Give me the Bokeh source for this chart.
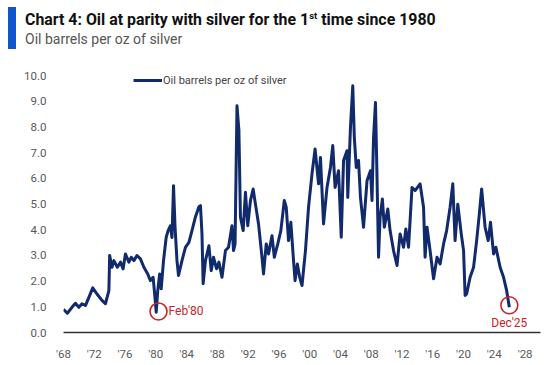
from bokeh.plotting import figure
from bokeh.models import (Range1d, FixedTicker, PrintfTickFormatter, Legend, LegendItem, Div)
from bokeh.layouts import column
from bokeh.embed import file_html
from bokeh.resources import INLINE
from bokeh.core.properties import value

# ---- data ----
dates = [1968.0, 1968.5, 1969.1, 1969.55, 1970.0, 1970.4, 1970.85, 1971.3, 1971.8, 1972.35,
         1973.0, 1973.45, 1973.9, 1974.0, 1974.3, 1974.55, 1975.0, 1975.4, 1975.75, 1976.05,
         1976.5, 1976.8, 1977.15, 1977.55, 1978.0, 1978.45, 1978.95, 1979.3, 1979.65, 1979.85,
         1980.05, 1980.25, 1980.5, 1980.7, 1981.0, 1981.35, 1981.6, 1981.9, 1982.1, 1982.3,
         1982.5, 1982.75, 1982.95, 1983.4, 1983.85, 1984.3, 1984.7, 1985.15, 1985.6, 1985.8,
         1986.0, 1986.15, 1986.45, 1986.9, 1987.2, 1987.5, 1987.9, 1988.2, 1988.6, 1989.05,
         1989.45, 1989.9, 1990.1, 1990.3, 1990.55, 1990.8, 1991.0, 1991.35, 1991.65, 1991.95,
         1992.3, 1992.65, 1992.95, 1993.35, 1993.8, 1994.0, 1994.35, 1994.65, 1995.1, 1995.4,
         1995.85, 1996.25, 1996.7, 1996.95, 1997.25, 1997.55, 1997.9, 1998.1, 1998.4, 1998.7,
         1999.0, 1999.45, 1999.85, 2000.3, 2000.7, 2001.15, 2001.4, 2001.8, 2002.25, 2002.7,
         2003.0, 2003.3, 2003.75, 2004.1, 2004.4, 2004.85, 2004.95, 2005.3, 2005.6, 2005.8,
         2006.05, 2006.35, 2006.6, 2007.0, 2007.45, 2007.9, 2008.1, 2008.3, 2008.55, 2008.7,
         2008.95, 2009.15, 2009.45, 2009.7, 2010.15, 2010.45, 2010.9, 2011.35, 2011.75, 2012.2,
         2012.5, 2012.85, 2013.3, 2013.7, 2014.35, 2014.8, 2015.0, 2015.25, 2015.65, 2016.1,
         2016.55, 2016.95, 2017.4, 2017.8, 2018.25, 2018.6, 2018.9, 2019.25, 2019.7, 2020.0,
         2020.2, 2020.4, 2020.85, 2021.3, 2021.7, 2022.05, 2022.35, 2022.8, 2023.2, 2023.5,
         2023.9, 2024.2, 2024.75, 2025.2, 2025.6, 2025.95]
ratio = [0.90, 0.75, 0.98, 1.14, 0.98, 1.12, 1.05, 1.37, 1.74, 1.50,
         1.25, 1.12, 1.63, 3.00, 2.54, 2.80, 2.54, 2.74, 2.48, 3.06,
         2.74, 2.93, 2.80, 3.00, 2.87, 2.54, 2.28, 2.02, 2.15, 1.50,
         0.79, 1.63, 2.28, 1.70, 2.80, 3.71, 3.97, 4.16, 3.70, 5.72,
         4.10, 2.80, 2.22, 2.80, 3.32, 3.51, 3.97, 4.50, 4.90, 4.94,
         3.84, 1.90, 2.80, 3.38, 2.41, 2.93, 2.48, 2.74, 2.15, 3.19,
         3.32, 4.16, 3.19, 3.45, 8.83, 7.86, 4.49, 3.97, 5.46, 4.16,
         5.14, 5.59, 5.00, 4.23, 2.93, 2.28, 3.45, 3.06, 3.77, 2.93,
         3.45, 3.97, 5.14, 4.88, 3.58, 4.29, 2.80, 2.02, 2.67, 2.15,
         1.83, 3.19, 4.88, 6.18, 7.15, 5.79, 6.82, 4.23, 5.65, 6.43,
         7.28, 5.65, 6.30, 3.71, 6.70, 7.08, 5.26, 7.99, 9.61, 7.60,
         6.43, 6.70, 5.26, 4.10, 5.91, 6.30, 5.14, 7.60, 8.96, 6.82,
         2.93, 4.49, 5.20, 4.10, 4.81, 3.97, 3.19, 2.61, 3.84, 3.32,
         4.03, 3.32, 5.65, 5.53, 5.79, 4.88, 2.93, 4.10, 3.19, 2.09,
         2.93, 2.67, 3.45, 3.97, 4.88, 5.79, 3.58, 5.00, 3.84, 3.19,
         1.44, 1.50, 2.15, 2.54, 3.58, 4.62, 5.59, 4.10, 3.58, 4.29,
         3.06, 3.32, 2.54, 2.15, 1.63, 0.98]

x_ticks = [1968, 1972, 1976, 1980, 1984, 1988, 1992, 1996, 2000, 2004, 2008, 2012,
           2016, 2020, 2024, 2028]
x_tick_labels = ["'68", "'72", "'76", "'80", "'84", "'88", "'92", "'96", "'00", "'04",
                 "'08", "'12", "'16", "'20", "'24", "'28"]
y_ticks = [0, 1, 2, 3, 4, 5, 6, 7, 8, 9, 10]

note_dates = [1980.35, 2025.95]
note_values = [0.82, 1.06]
note_labels = ["Feb'80", "Dec'25"]

series_label = "Oil barrels per oz of silver"
title_main = "Chart 4: Oil at parity with silver for the 1"
title_sup = "st"
title_tail = " time since 1980"
subtitle = "Oil barrels per oz of silver"

# ---- styling ----
FONT = "Roboto"
NAVY = "#102a6b"
RED = "#cc2229"
GRAY = "#595959"
HEADER_H = 56

header = Div(
    text=(
        '<div style="margin:7px 0 0 8px;border-left:8px solid #1155cc;padding:3px 0 0 9px;'
        'height:42px;font-family:Roboto,sans-serif;white-space:nowrap;">'
        '<div style="font-weight:bold;font-size:15.9px;line-height:20px;color:#111;'
        'letter-spacing:0px;">'
        f'{title_main}<sup style="font-size:9.5px;line-height:0;">{title_sup}</sup>{title_tail}</div>'
        '<div style="font-size:14px;line-height:18px;color:#555;letter-spacing:0px;">'
        f'{subtitle}</div></div>'
    ),
    width=550, height=HEADER_H, margin=(0, 0, 0, 0))

p = figure(width=550, height=365 - HEADER_H, output_backend="svg", toolbar_location=None,
           x_range=Range1d(1968, 2030), y_range=Range1d(0, 10.4),
           min_border_left=63, min_border_right=10, min_border_top=9, min_border_bottom=33,
           margin=(0, 0, 0, 0))
p.outline_line_color = None
p.xgrid.visible = False
p.ygrid.visible = False
p.background_fill_color = "white"
p.border_fill_color = "white"

r = p.line(dates, ratio, line_color=NAVY, line_width=3, line_join="round")

p.scatter(note_dates, note_values, marker="circle", size=17, fill_color=None,
          line_color=RED, line_width=1.6)
p.text([note_dates[0]], [note_values[0]], text=[note_labels[0]], x_offset=10,
       text_align="left", text_baseline="middle", text_color=RED,
       text_font=value(FONT), text_font_size="12px")
p.text([note_dates[1]], [note_values[1]], text=[note_labels[1]], y_offset=18,
       text_align="center", text_baseline="middle", text_color=RED,
       text_font=value(FONT), text_font_size="12px")

# axes
xa = p.xaxis[0]
xa.ticker = FixedTicker(ticks=x_ticks)
xa.major_label_overrides = {t: l for t, l in zip(x_ticks, x_tick_labels)}
xa.axis_line_color = "#333333"
xa.axis_line_width = 1.6
xa.major_tick_line_color = None
xa.minor_tick_line_color = None
xa.major_label_standoff = 8
xa.major_label_text_font = FONT
xa.major_label_text_font_size = "11.5px"
xa.major_label_text_color = GRAY

ya = p.yaxis[0]
ya.ticker = FixedTicker(ticks=y_ticks)
ya.formatter = PrintfTickFormatter(format="%.1f")
ya.axis_line_color = None
ya.major_tick_line_color = None
ya.minor_tick_line_color = None
ya.major_label_standoff = 11
ya.major_label_text_font = FONT
ya.major_label_text_font_size = "11.5px"
ya.major_label_text_color = GRAY

legend = Legend(items=[LegendItem(label=series_label, renderers=[r])],
                location=(70, 242), glyph_width=29, glyph_height=20, label_standoff=1,
                padding=0, margin=0, spacing=0, border_line_alpha=0,
                background_fill_alpha=0, label_text_font=FONT,
                label_text_font_size="11px", label_text_color="#444444",
                label_height=20)
p.add_layout(legend)

layout = column(header, p, spacing=0)
open("out.html", "w").write(file_html(layout, INLINE))
